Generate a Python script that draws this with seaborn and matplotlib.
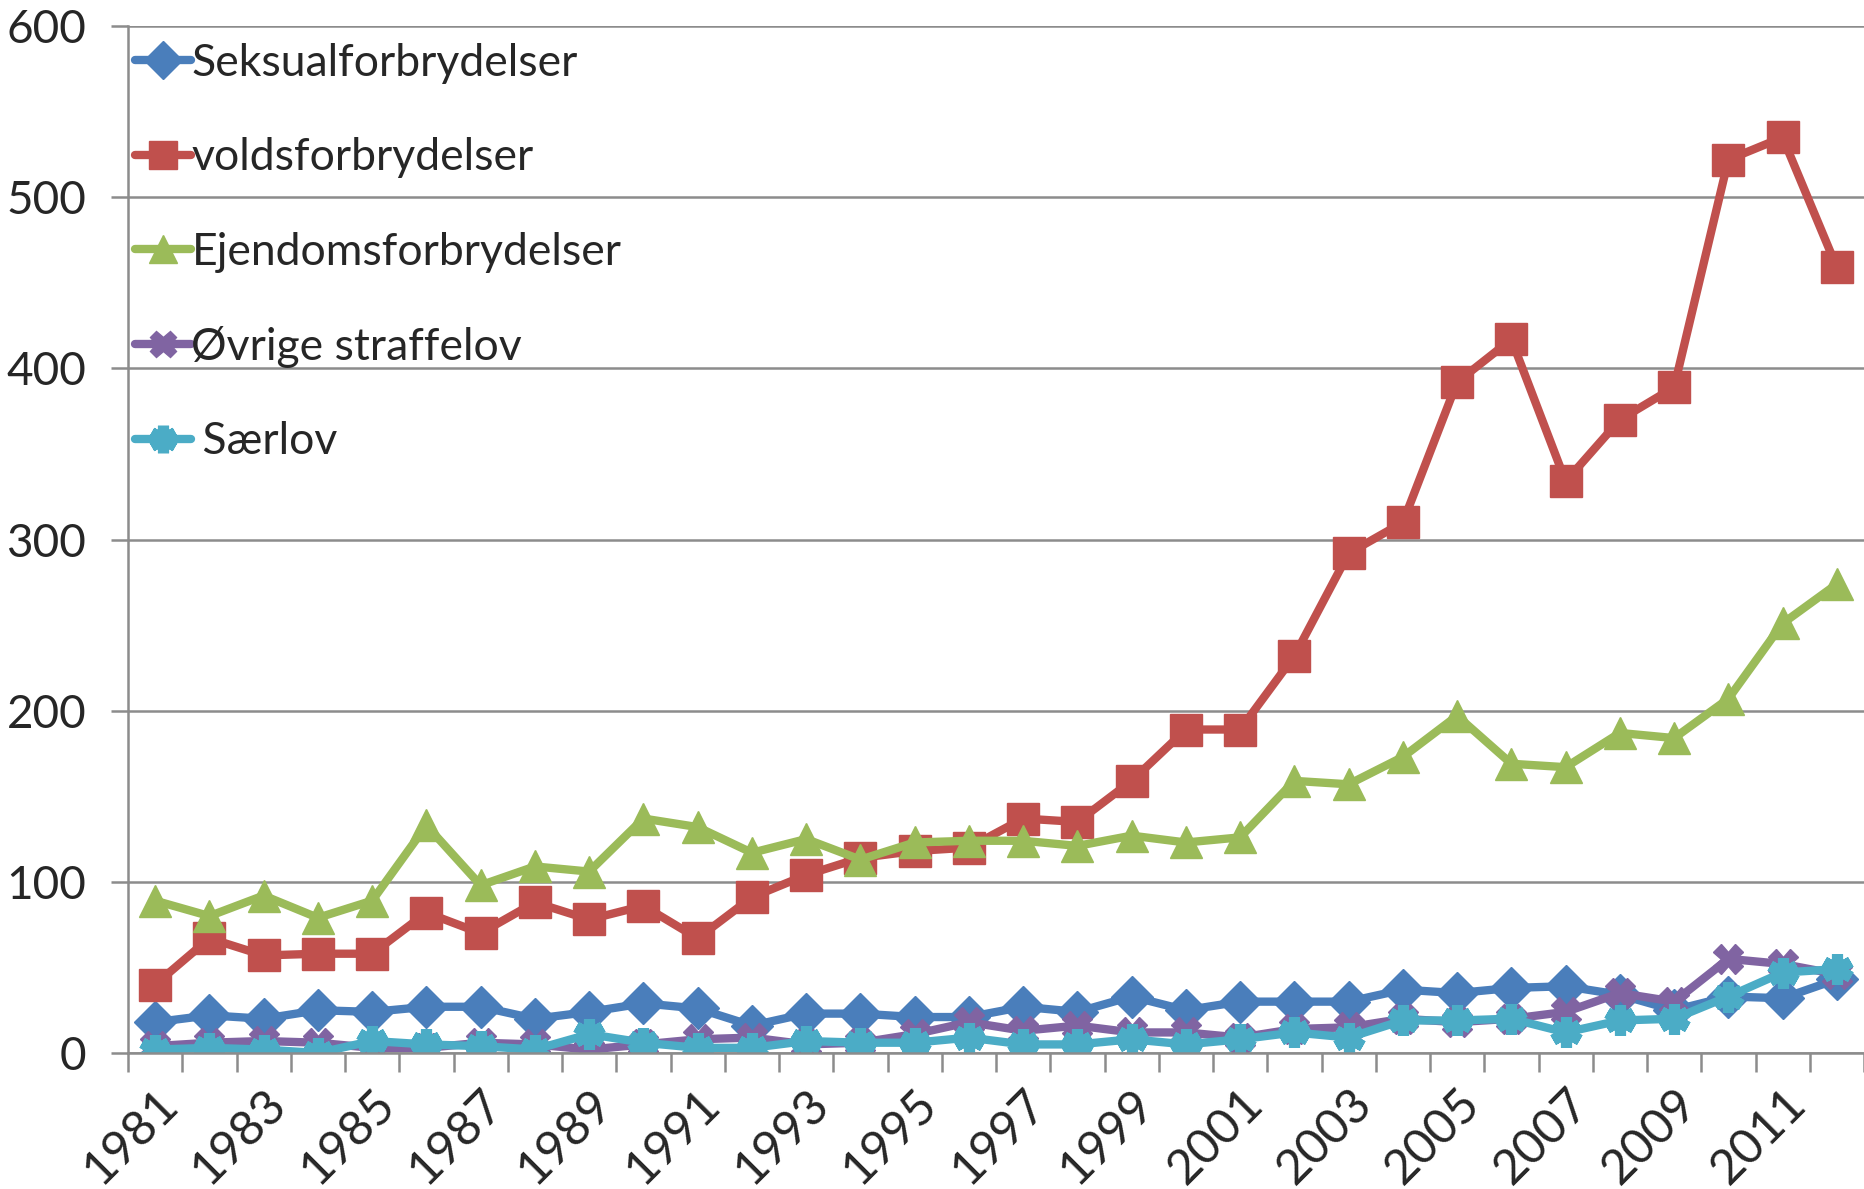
import numpy as np
import pandas as pd
import matplotlib
matplotlib.use("Agg")
import matplotlib.pyplot as plt
import seaborn as sns

# data
years = list(range(1981, 2013))
seksual = [18, 22, 20, 25, 24, 27, 27, 20, 24, 29, 26, 16, 23, 23, 21, 21,
           27, 24, 33, 25, 30, 30, 30, 37, 35, 38, 39, 34, 25, 33, 32, 43]
volds = [40, 67, 57, 58, 58, 82, 70, 88, 78, 86, 67, 91, 104, 114, 118, 120,
         137, 135, 159, 189, 189, 232, 292, 310, 392, 417, 334, 370, 389, 522, 535, 459]
ejendom = [89, 80, 92, 79, 89, 133, 98, 109, 106, 137, 132, 117, 125, 113, 123, 124,
           124, 121, 127, 123, 126, 159, 157, 173, 197, 169, 167, 187, 184, 207, 251, 274]
ovrige = [4, 6, 7, 6, 3, 3, 6, 5, 2, 5, 8, 9, 5, 6, 11, 18,
          13, 16, 12, 12, 9, 14, 15, 20, 18, 20, 24, 35, 30, 55, 52, 46]
saerlov = [2, 3, 2, 0, 7, 5, 4, 2, 11, 6, 3, 3, 7, 6, 6, 9,
           5, 5, 8, 5, 8, 12, 9, 19, 19, 20, 12, 19, 20, 33, 47, 49]
names = ["Seksualforbrydelser", "voldsforbrydelser", "Ejendomsforbrydelser",
         "Øvrige straffelov", " Særlov"]

series = [seksual, volds, ejendom, ovrige, saerlov]
colors = ["#4A7EBB", "#C0504D", "#9BBB59", "#8064A2", "#4BACC6"]
markers = ["D", "s", "^", "X", (6, 2, 0)]
msizes = [21, 23, 23, 21, 22]

sns.set_style("white")
plt.rcParams["font.family"] = ["Lato", "DejaVu Sans"]

fig = plt.figure(figsize=(18.64, 11.89), dpi=100)
ax = fig.add_axes([0.0687, 0.1144, 0.9313, 0.8636])

idx = np.arange(len(years))
for vals, name, c, m, ms in zip(series, names, colors, markers, msizes):
    df = pd.DataFrame({"x": idx, "y": vals})
    if m == (6, 2, 0):
        sns.lineplot(data=df, x="x", y="y", ax=ax, color=c, linewidth=6,
                     marker=m, markersize=ms, markeredgecolor=c,
                     markeredgewidth=8, label=name)
    else:
        sns.lineplot(data=df, x="x", y="y", ax=ax, color=c, linewidth=6,
                     marker=m, markersize=ms, markeredgecolor=c,
                     markeredgewidth=1, label=name)

ax.set_xlim(-0.5, len(years) - 0.5)
ax.set_ylim(0, 600)
ax.set_yticks(range(0, 601, 100))
ax.yaxis.grid(True, color="#8C8C8C", linewidth=1.8)
ax.set_axisbelow(True)

ax.set_xticks(idx[::2])
ax.set_xticklabels([str(y) for y in years[::2]], rotation=45, ha="right",
                   rotation_mode="anchor")
ax.set_xticks(np.arange(-0.5, len(years), 1), minor=True)
ax.tick_params(axis="x", which="major", length=0, pad=20, labelsize=35)
ax.tick_params(axis="x", which="minor", length=14, width=1.8, color="#8C8C8C",
               direction="out", bottom=True)
ax.tick_params(axis="y", length=12, width=1.8, color="#8C8C8C", pad=18,
               labelsize=33, left=True)
ax.set_xlabel("")
ax.set_ylabel("")

for s in ["top", "right"]:
    ax.spines[s].set_visible(False)
for s in ["left", "bottom"]:
    ax.spines[s].set_color("#8C8C8C")
    ax.spines[s].set_linewidth(1.8)

leg = ax.legend(loc="upper left", bbox_to_anchor=(-0.006, 1.0), frameon=False,
                fontsize=32, handlelength=1.28, handletextpad=0.0,
                labelspacing=1.2, borderaxespad=0.0, borderpad=0.38,
                markerscale=0.9)

fig.savefig("out.png", dpi=100)
